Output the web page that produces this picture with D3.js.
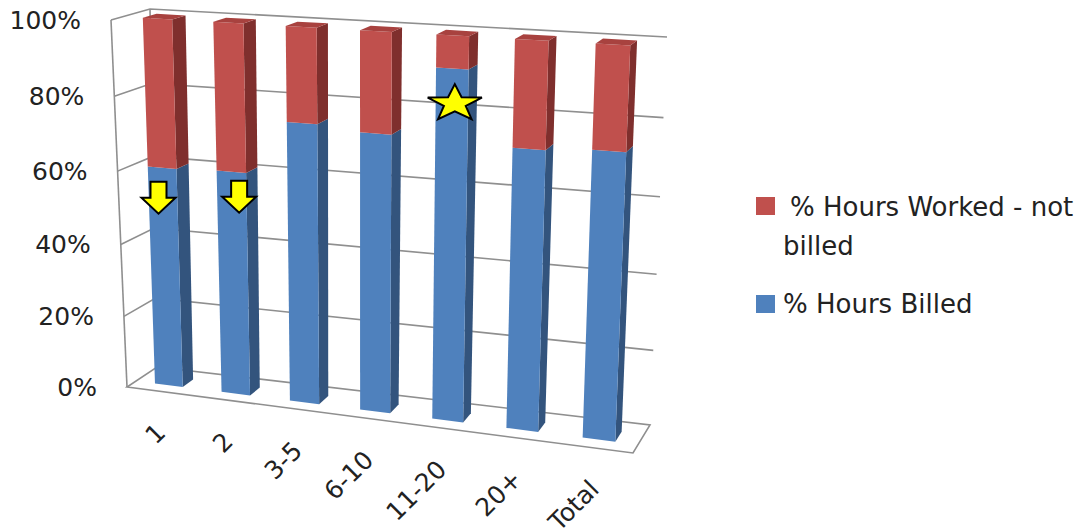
<!DOCTYPE html>
<html>
<head>
<meta charset="utf-8">
<script src="https://cdnjs.cloudflare.com/ajax/libs/d3/7.8.5/d3.min.js"></script>
<style>
  html, body { margin: 0; padding: 0; background: #fff; }
  svg { display: block; }
  text { font-family: "DejaVu Sans", sans-serif; font-size: 26px; fill: #222; }
  .tick-label, .category-label { font-size: 25px; }
</style>
</head>
<body>
<svg id="chart" width="1086" height="532"></svg>
<script>
// Chart data
const categories = ["1", "2", "3-5", "6-10", "11-20", "20+", "Total"];
const hoursBilled = [60.5, 61, 75.3, 74, 91.8, 73, 74];
const hoursNotBilled = [39.5, 39, 24.7, 26, 8.2, 27, 26];
const percentTicks = [0, 20, 40, 60, 80, 100];
const seriesNames = [" % Hours Worked - not billed", "% Hours Billed"];
const arrowCategories = ["1", "2"];
const arrowValues = [48, 50];
const arrowShift = [-5, 7];
const starCategory = "11-20";
const starValue = 83;

// Corners of the 3-D plot box on screen: [front/back][left/right] for floor and ceiling
const box = {
  floor: { fl: [127, 387], fr: [633, 453], bl: [157, 367], br: [650, 425] },
  top:   { fl: [111, 20],  fr: [649, 51],  bl: [150, 9],   br: [667, 37] }
};
const colors = {
  red:  { front: "#c0504d", side: "#7f2f2d", top: "#a8423f" },
  blue: { front: "#4f81bd", side: "#33547d" },
  grid: "#8f8f8f"
};

// Foreshortening: equal steps grow slightly as they approach the viewer
const warp = k => t => t / (t + k * (1 - t));
const warpU = warp(1.1), warpW = warp(1.05);

const xBand = d3.scaleBand().domain(categories).range([0, 1])
  .paddingInner(0.58).paddingOuter(0.29);
const yScale = d3.scaleLinear().domain([0, 100]).range([0, 1]);
const depth = { front: 0.3, back: 0.66 };

const mix = (a, b, t) => [a[0] + (b[0] - a[0]) * t, a[1] + (b[1] - a[1]) * t];
function plane(p, u, v) {
  return mix(mix(p.fl, p.fr, u), mix(p.bl, p.br, u), v);
}
// u, v in 0..1 across and into the box, value in percent
function project(u, v, value) {
  const uw = warpU(u), h = warpW(yScale(value));
  return mix(plane(box.floor, uw, v), plane(box.top, uw, v), h);
}

const svg = d3.select("#chart");
const line = d3.line();
const poly = pts => line(pts) + "Z";

// Plot box: floor, walls and gridlines
const frame = svg.append("g").attr("fill", "none").attr("stroke", colors.grid)
  .attr("stroke-width", 1.6);
frame.append("path").attr("d", poly([
  project(0, 0, 0), project(1, 0, 0), project(1, 1, 0), project(0, 1, 0)
]));
frame.append("path").attr("d", line([project(0, 0, 0), project(0, 0, 100)]));
frame.append("path").attr("d", line([project(0, 1, 0), project(0, 1, 100)]));
frame.selectAll("path.grid").data(percentTicks.filter(d => d > 0)).join("path")
  .attr("class", "grid")
  .attr("d", d => line([project(0, 0, d), project(0, 1, d), project(1, 1, d)]));

// Percent axis labels along the front-left edge
svg.append("g").selectAll("text").data(percentTicks).join("text")
  .attr("class", "tick-label")
  .attr("x", d => project(0, 0, d)[0] - 30)
  .attr("y", d => project(0, 0, d)[1] + 9)
  .attr("text-anchor", "end")
  .text(d => d + "%");

// Stacked columns, left to right
const bars = svg.append("g");
categories.forEach((cat, i) => {
  const u0 = xBand(cat), u1 = u0 + xBand.bandwidth();
  const { front: v0, back: v1 } = depth;
  const g = bars.append("g");
  const segment = (lo, hi, c) => {
    g.append("path").attr("fill", c.side).attr("d", poly([
      project(u1, v0, lo), project(u1, v1, lo), project(u1, v1, hi), project(u1, v0, hi)
    ]));
    g.append("path").attr("fill", c.front).attr("d", poly([
      project(u0, v0, lo), project(u1, v0, lo), project(u1, v0, hi), project(u0, v0, hi)
    ]));
  };
  const billed = hoursBilled[i], total = billed + hoursNotBilled[i];
  segment(0, billed, colors.blue);
  segment(billed, total, colors.red);
  g.append("path").attr("fill", colors.red.top).attr("d", poly([
    project(u0, v0, total), project(u1, v0, total), project(u1, v1, total), project(u0, v1, total)
  ]));
});

// Category labels, rotated under the front edge
svg.append("g").selectAll("text").data(categories).join("text")
  .attr("class", "category-label")
  .attr("text-anchor", "end")
  .attr("transform", d => {
    const p = project(xBand(d) + xBand.bandwidth() / 2, 0, 0);
    return `translate(${p[0] + 7},${p[1] + 43}) rotate(-45)`;
  })
  .text(d => d);

// Down arrows and the star call-out
const arrowShape = [[-8, -32], [8, -32], [8, -16], [17, -16], [0, 0], [-17, -16], [-8, -16]];
svg.append("g").selectAll("path").data(arrowCategories).join("path")
  .attr("fill", "#ffff00").attr("stroke", "#000").attr("stroke-width", 2)
  .attr("transform", (d, i) => {
    const p = project(xBand(d) + xBand.bandwidth() / 2, depth.front, arrowValues[i]);
    return `translate(${p[0] + arrowShift[i]},${p[1]})`;
  })
  .attr("d", poly(arrowShape));

const starPts = d3.range(10).map(i => {
  const r = i % 2 ? 11.5 : 28.5, a = i * Math.PI / 5;
  return [r * Math.sin(a), -0.68 * r * Math.cos(a)];
});
const sp = project(xBand(starCategory) + xBand.bandwidth() / 2, depth.front, starValue);
svg.append("path")
  .attr("fill", "#ffff00").attr("stroke", "#000").attr("stroke-width", 2)
  .attr("transform", `translate(${sp[0] + 3},${sp[1]})`)
  .attr("d", poly(starPts));

// Legend
const legend = svg.append("g");
legend.append("rect").attr("x", 756).attr("y", 197).attr("width", 19).attr("height", 18)
  .attr("fill", colors.red.front);
legend.append("rect").attr("x", 756).attr("y", 295).attr("width", 19).attr("height", 18)
  .attr("fill", colors.blue.front);
legend.append("text").attr("x", 790).attr("y", 216).text(seriesNames[0].trim().replace(" billed", ""));
legend.append("text").attr("x", 783).attr("y", 255).text("billed");
legend.append("text").attr("x", 783).attr("y", 313).text(seriesNames[1]);
</script>
</body>
</html>
